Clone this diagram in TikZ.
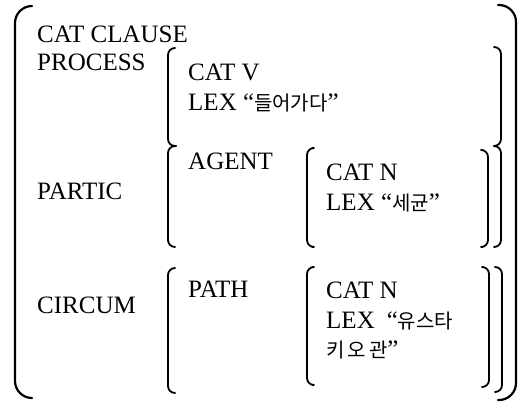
\documentclass[tikz,border=0pt]{standalone}
\usepackage{fontspec}
\setmainfont{Liberation Serif}
\newfontfamily\kor{Noto Sans CJK KR}
\newcommand\hangul[1]{{\kor\fontsize{20}{24}\selectfont #1}}
\begin{document}
\begin{tikzpicture}[x=1pt,y=-1pt,
  lbl/.style={anchor=base west, inner sep=0pt, font=\fontsize{25}{28}\selectfont},
  brk/.style={line width=1.8pt, line cap=round, line join=round, rounded corners=7},
  obrk/.style={line width=2.2pt, line cap=round, line join=round, rounded corners=17}]
\useasboundingbox (0,0) rectangle (526,402);

% outermost feature structure
\draw[obrk] (32,6) -- (15,6) -- (15,398) -- (32,398);
\draw[obrk] (498,5) -- (516,5) -- (516,400) -- (498,400);

% top-level features
\node[lbl] (cat)    at (37,42)  {CAT CLAUSE};
\node[lbl] (proc)   at (37,70)  {PROCESS};
\node[lbl] (partic) at (37,199) {PARTIC};
\node[lbl] (circ)   at (37,313) {CIRCUM};

% PROCESS / PARTIC values (joined at the brace point)
\draw[brk] (175,48) -- (168,48) -- (168,146) -- (176,146);
\draw[brk] (176,146) -- (168,146) -- (168,247) -- (175,247);
\draw[brk] (495,47) -- (501,47) -- (501,146) -- (494,146);
\draw[brk] (494,146) -- (501,146) -- (501,247) -- (495,247);

\node[lbl] (catv) at (188,80)  {CAT V};
\node[lbl] (lexv) at (188,110) {LEX “\hangul{들어가다}”};

\node[lbl] (agent) at (188,169) {AGENT};
\draw[brk] (312,148) -- (307,148) -- (307,247) -- (312,247);
\draw[brk] (483,150) -- (488,150) -- (488,247) -- (483,247);
\node[lbl] (catn1) at (326,180) {CAT N};
\node[lbl] (lexn1) at (326,210) {LEX “\hangul{세균}”};

% CIRCUM value
\draw[brk] (175,268) -- (168,268) -- (168,393) -- (175,393);
\draw[brk] (496,267) -- (502,267) -- (502,392) -- (496,392);
\node[lbl] (path) at (188,297) {PATH};
\draw[brk] (312,267) -- (307,267) -- (307,385) -- (312,385);
\draw[brk] (483,267) -- (489,267) -- (489,387) -- (483,387);
\node[lbl] (catn2) at (326,298) {CAT N};
\node[lbl] (lexn2) at (326,328) {LEX\hspace{12pt}“\hangul{유스타}};
\node[lbl] (lexn2b) at (326,357) {\hangul{키\hspace{3pt}오\hspace{3pt}관}”};
\end{tikzpicture}
\end{document}
